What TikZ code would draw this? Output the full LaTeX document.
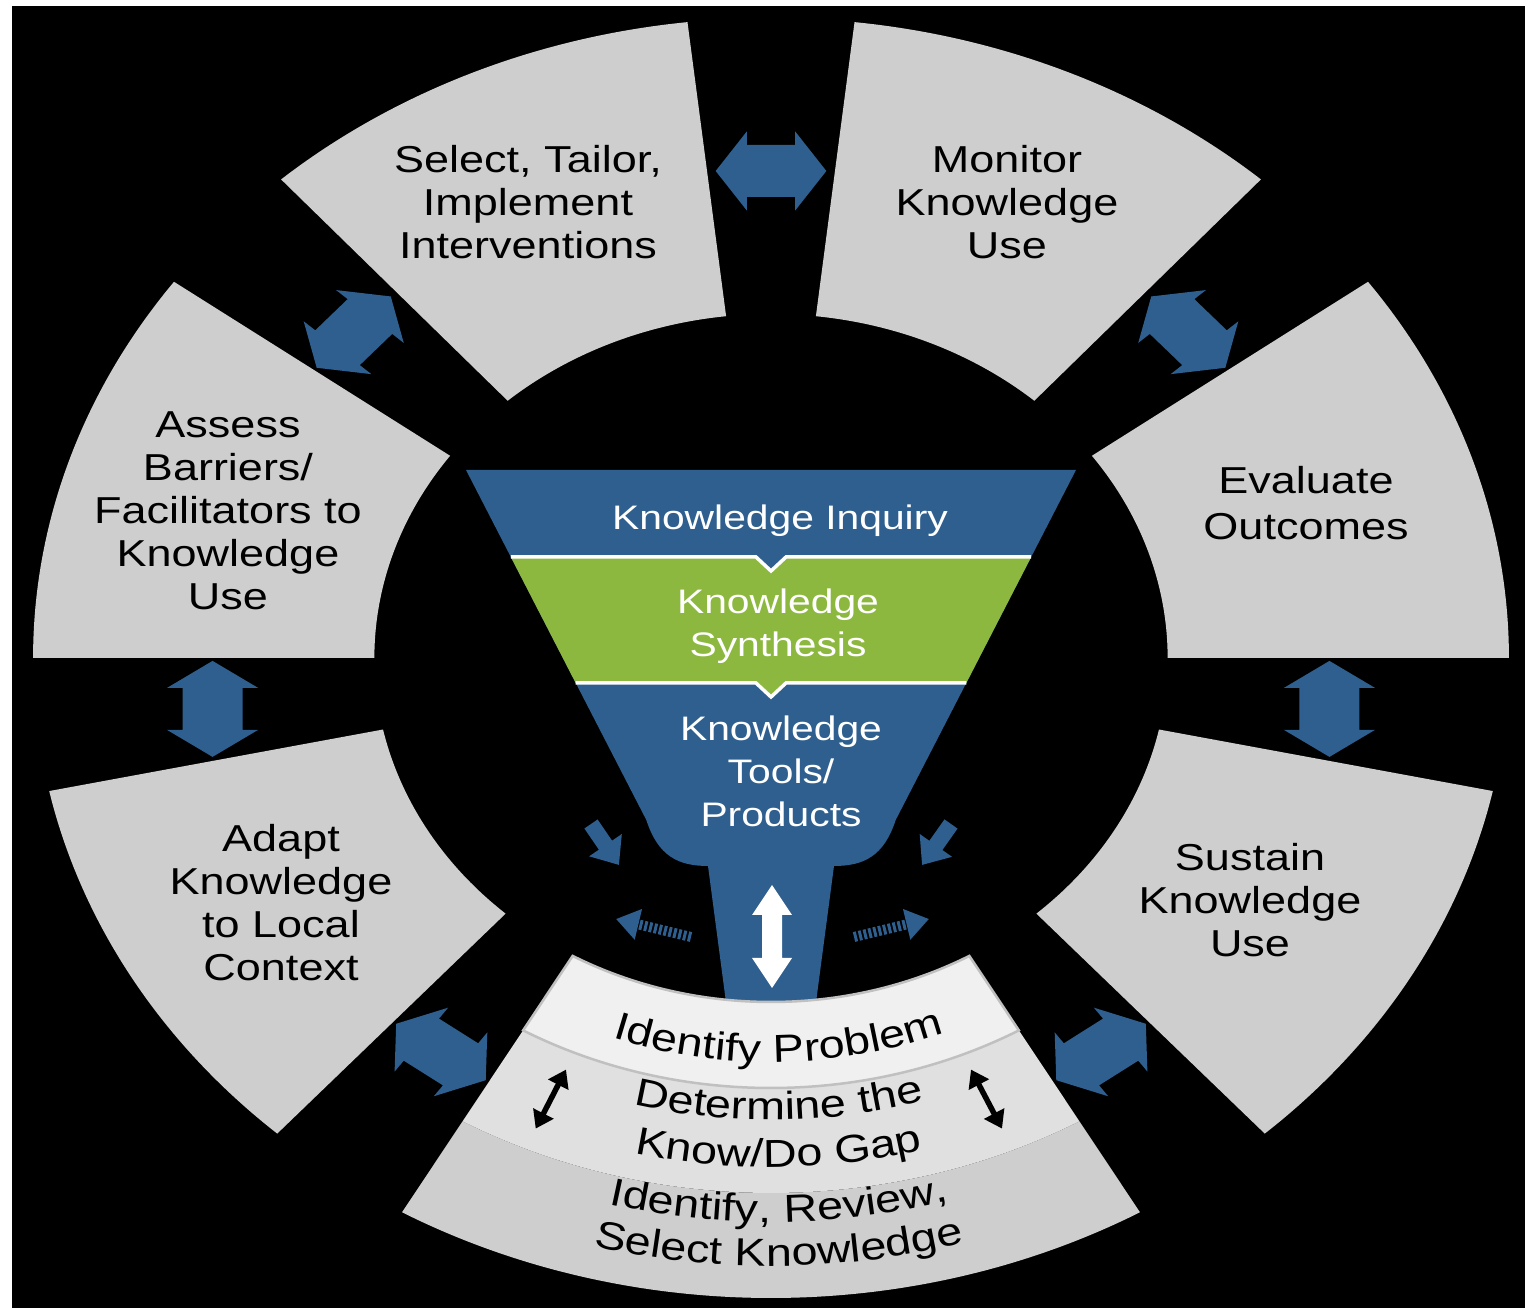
\documentclass[tikz,border=0pt]{standalone}
\usepackage{fontspec}
\setmainfont{Liberation Sans}[FakeStretch=1.2]
\usetikzlibrary{decorations.text,arrows.meta}
\definecolor{kblue}{RGB}{46,95,142}
\definecolor{kgreen}{RGB}{141,184,63}
\definecolor{kgray}{RGB}{206,206,206}
\definecolor{bandA}{RGB}{240,240,240}
\definecolor{bandB}{RGB}{224,224,224}
\definecolor{bandline}{RGB}{192,192,192}
\newcommand{\secfont}{\fontsize{37.5pt}{43pt}\selectfont}
\newcommand{\arcfont}{\fontsize{39pt}{43pt}\selectfont}
\newcommand{\funfont}{\fontsize{34pt}{43pt}\selectfont}
% annular (elliptic) sector: style, theta1, theta2, r inner, r outer
\newcommand{\annsec}[5]{%
  \pgfmathsetmacro{\ain}{1.153*#4}\pgfmathsetmacro{\aout}{1.153*#5}%
  \path[#1, shift={(771,650)}] (#2:\ain pt and #4pt) -- (#2:\aout pt and #5pt)
    arc[start angle=#2, end angle=#3, x radius=\aout pt, y radius=#5pt]
    -- (#3:\ain pt and #4pt)
    arc[start angle=#3, end angle=#2, x radius=\ain pt, y radius=#4pt] -- cycle;}
% text along an arc of the bottom sector: radius, text (centred at x = 780)
\newcommand{\arctext}[2]{%
  \pgfmathsetmacro{\ar}{1.153*#1}%
  \pgfmathsetmacro{\da}{9/(1.153*#1)*180/pi}%
  \pgfmathsetmacro{\sa}{200+\da}\pgfmathsetmacro{\ea}{340+\da}%
  \path[shift={(771,650)}, decorate, decoration={text along path, text={|\arcfont|#2}, text align=center}]
    (\sa:\ar pt and #1pt) arc[start angle=\sa, end angle=\ea, x radius=\ar pt, y radius=#1pt];}
% block double arrow in a gap: position angle, orientation angle
\newcommand{\gaparrow}[2]{%
  \begin{scope}[shift={(771,650)}, xscale=1.153]
   \begin{scope}[shift={(#1:487pt)}, rotate=#2]
    \fill[kblue] (0,48) -- (39.5,21) -- (26,21) -- (26,-21) -- (39.5,-21) -- (0,-48)
      -- (-39.5,-21) -- (-26,-21) -- (-26,21) -- (-39.5,21) -- cycle;
   \end{scope}
  \end{scope}}
\tikzset{
  sectext/.style={align=center, font=\secfont, text=black, inner sep=0pt},
  funtext/.style={align=center, font=\funfont, text=white, inner sep=0pt},
  sep/.style={white, line width=3.5pt, line join=miter},
  blkarrow/.style={black, line width=5.5pt, {Triangle[width=22pt,length=17pt]}-{Triangle[width=22pt,length=17pt]}},
  dotarrow/.style={kblue, line width=10pt, dash pattern=on 3pt off 2pt, -{Triangle[width=30pt,length=23pt]}},
  smallarrow/.style={kblue, line width=16pt, -{Triangle[width=38pt,length=24pt]}},
}
\begin{document}
\begin{tikzpicture}[x=1pt,y=1pt]
\useasboundingbox (0,0) rectangle (1534,1308);
\fill[white] (0,0) rectangle (1534,1308);
\fill[black] (12,0) rectangle (1525,1302);

% outer ring sectors
\annsec{fill=kgray}{96.5}{131.6}{344}{640}
\annsec{fill=kgray}{48.4}{83.5}{344}{640}
\annsec{fill=kgray}{0}{36}{344}{640}
\annsec{fill=kgray}{-48}{-12}{344}{640}
\annsec{fill=kgray}{192}{228}{344}{640}
\annsec{fill=kgray}{144}{180}{344}{640}
% bottom sector bands
\annsec{fill=kgray}{240}{300}{535}{640}
\annsec{fill=bandB}{240}{300}{430}{535}

% funnel
\fill[kblue] (466,838) -- (1076,838) -- (895.7,488) .. controls (884,452) and (864,442) .. (834,442)
  -- (815,298) -- (727,298) -- (708,442) .. controls (678,442) and (658,452) .. (646.3,488) -- cycle;
\fill[kgreen] (510.8,751) -- (756,751) -- (771,737) -- (786,751) -- (1031.2,751) -- (966.3,625)
  -- (786,625) -- (771,611) -- (756,625) -- (575.7,625) -- cycle;
\draw[sep] (510.8,751) -- (756,751) -- (771,737) -- (786,751) -- (1031.2,751);
\draw[sep] (575.7,625) -- (756,625) -- (771,611) -- (786,625) -- (966.3,625);

\annsec{fill=bandA, draw=bandline, line width=2.5pt}{240}{300}{344}{430}

% white double arrow in the stem
\fill[white] (772,423) -- (792,393) -- (782,393) -- (782,350) -- (792,350) -- (772,320)
  -- (752,350) -- (762,350) -- (762,393) -- (752,393) -- cycle;

% gap arrows
\gaparrow{90}{90}
\gaparrow{138}{138}
\gaparrow{42}{42}
\gaparrow{186}{180}
\gaparrow{-6}{0}
\gaparrow{234}{234}
\gaparrow{306}{306}

% small arrows round the funnel
\coordinate (sl1) at (591,484); \coordinate (sl2) at (619,443);
\coordinate (sr1) at (951,484); \coordinate (sr2) at (922,443);
\draw[smallarrow] (sl1) -- (sl2);
\draw[smallarrow] (sr1) -- (sr2);
\coordinate (dl1) at (691,371); \coordinate (dl2) at (616,389);
\coordinate (dr1) at (854,371); \coordinate (dr2) at (929,389);
\draw[dotarrow] (dl1) -- (dl2);
\draw[dotarrow] (dr1) -- (dr2);

% black arrows in the bottom sector
\coordinate (bl1) at (566,238.4); \coordinate (bl2) at (535.7,179.4);
\coordinate (br1) at (971,238.4); \coordinate (br2) at (1002,179.4);
\draw[blkarrow] (bl1) -- (bl2);
\draw[blkarrow] (br1) -- (br2);

% texts
\node[sectext] (select) at (528,1106) {Select, Tailor,\\Implement\\Interventions};
\node[sectext] (monitor) at (1007,1106) {Monitor\\Knowledge\\Use};
\node[sectext] (evaluate) at (1306,805) {Evaluate\\[3pt]Outcomes};
\node[sectext] (assess) at (228,797) {Assess\\Barriers/\\Facilitators to\\Knowledge\\Use};
\node[sectext] (adapt) at (281,405) {Adapt\\Knowledge\\to Local\\Context};
\node[sectext] (sustain) at (1250,408) {Sustain\\Knowledge\\Use};
\node[funtext] (inquiry) at (780,787) {Knowledge Inquiry};
\node[funtext] (synthesis) at (778,682) {Knowledge\\Synthesis};
\node[funtext] (tools) at (781,537) {Knowledge\\Tools/\\Products};

\arctext{404}{Identify Problem}
\arctext{462}{Determine the}
\arctext{509}{Know/Do Gap}
\arctext{564}{Identify, Review,}
\arctext{608}{Select Knowledge}
\end{tikzpicture}
\end{document}
